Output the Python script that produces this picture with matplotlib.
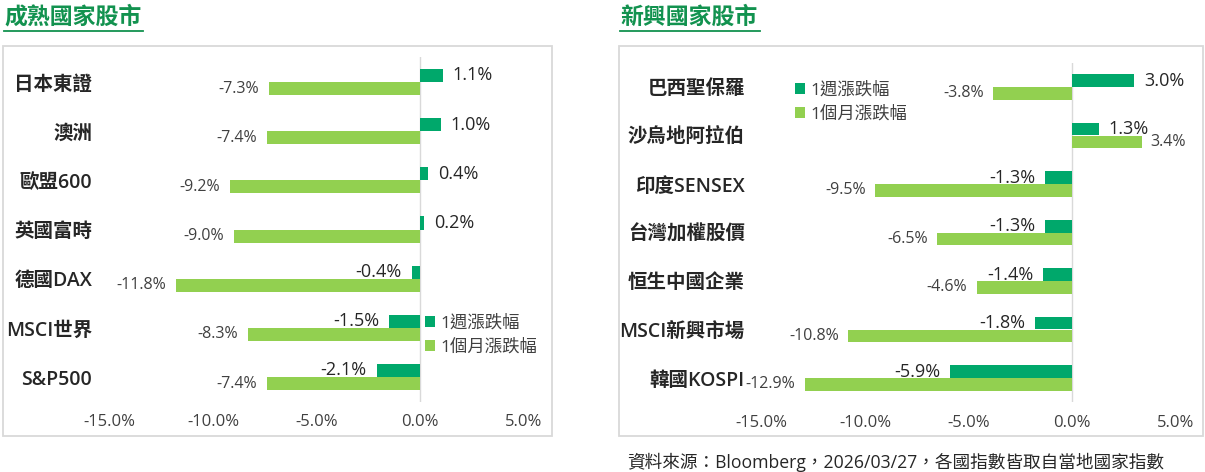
"""
Weekly and monthly returns of developed and emerging stock markets,
drawn as two horizontal bar panels side by side.
"""

import matplotlib

matplotlib.use("Agg")
import matplotlib.pyplot as plt
from matplotlib.lines import Line2D
from matplotlib.patches import Rectangle

plt.rcParams["font.family"] = ["Open Sans", "Noto Sans CJK TC", "DejaVu Sans"]

W, H = 1205, 472

dev_names = ["日本東證", "澳洲", "歐盟600", "英國富時", "德國DAX", "MSCI世界", "S&P500"]
dev_week = [1.1, 1.0, 0.4, 0.2, -0.4, -1.5, -2.1]
dev_month = [-7.3, -7.4, -9.2, -9.0, -11.8, -8.3, -7.4]

em_names = ["巴西聖保羅", "沙烏地阿拉伯", "印度SENSEX", "台灣加權股價",
            "恒生中國企業", "MSCI新興市場", "韓國KOSPI"]
em_week = [3.0, 1.3, -1.3, -1.3, -1.4, -1.8, -5.9]
em_month = [-3.8, 3.4, -9.5, -6.5, -4.6, -10.8, -12.9]

x_ticks = [-15, -10, -5, 0, 5]
legend_labels = ["1週漲跌幅", "1個月漲跌幅"]
titles = ["成熟國家股市", "新興國家股市"]
source = "資料來源：Bloomberg，2026/03/27，各國指數皆取自當地國家指數"

WEEK_COLOR = "#00A86B"
MONTH_COLOR = "#92D050"
TITLE_COLOR = "#12924F"
TEXT_DARK = "#262626"
TEXT_GRAY = "#404040"
BOX_COLOR = "#D9D9D9"
BAR_H = 0.265


def px_axes(fig, left, top, right, bottom):
    return fig.add_axes([left / W, 1 - bottom / H, (right - left) / W, (bottom - top) / H])


def draw_panel(ax, names, week, month, label_pad):
    pos = list(range(len(names)))
    bw = ax.barh([p - BAR_H / 2 for p in pos], week, height=BAR_H,
                 color=WEEK_COLOR, label=legend_labels[0])
    bm = ax.barh([p + BAR_H / 2 for p in pos], month, height=BAR_H,
                 color=MONTH_COLOR, label=legend_labels[1])

    for p, v in zip(pos, week):
        ax.annotate(f"{v:.1f}%", xy=(v, p - BAR_H / 2),
                    xytext=(7 if v >= 0 else -7, 0), textcoords="offset points",
                    ha="left" if v >= 0 else "right", va="center",
                    fontsize=13, color=TEXT_DARK, fontweight="medium")
    for p, v in zip(pos, month):
        ax.annotate(f"{v:.1f}%", xy=(v, p + BAR_H / 2),
                    xytext=(6 if v >= 0 else -7, 0), textcoords="offset points",
                    ha="left" if v >= 0 else "right", va="center",
                    fontsize=11.5, color=TEXT_GRAY)

    ax.axvline(0, color=BOX_COLOR, lw=1, zorder=0)
    ax.set_xlim(-15, 5)
    ax.set_ylim(len(names) - 0.5, -0.5)
    ax.set_xticks(x_ticks)
    ax.set_xticklabels([f"{t:.1f}%" for t in x_ticks], fontsize=12, color=TEXT_GRAY)
    ax.set_yticks(pos)
    ax.set_yticklabels(names, fontsize=14, color=TEXT_DARK, fontweight="semibold")
    ax.tick_params(axis="y", length=0, pad=label_pad)
    ax.tick_params(axis="x", length=0, pad=9)
    for s in ax.spines.values():
        s.set_visible(False)
    ax.patch.set_alpha(0)
    return bw, bm


fig = plt.figure(figsize=(W / 100, H / 100), dpi=100)

ax1 = px_axes(fig, 109.5, 57.4, 523.5, 401.6)
h1 = draw_panel(ax1, dev_names, dev_week, dev_month, 12.5)
ax1.legend(h1, legend_labels, loc="center left",
           bbox_to_anchor=(425 / W, 1 - 335.5 / H), bbox_transform=fig.transFigure,
           frameon=False, fontsize=12.5, handlelength=0.55, handleheight=0.55,
           handletextpad=0.35, labelspacing=0.45, borderpad=0, borderaxespad=0,
           labelcolor=TEXT_GRAY)

ax2 = px_axes(fig, 761.5, 62.75, 1175.5, 402.25)
h2 = draw_panel(ax2, em_names, em_week, em_month, 12)
ax2.legend(h2, legend_labels, loc="center left",
           bbox_to_anchor=(795 / W, 1 - 102.5 / H), bbox_transform=fig.transFigure,
           frameon=False, fontsize=12.5, handlelength=0.55, handleheight=0.55,
           handletextpad=0.35, labelspacing=0.45, borderpad=0, borderaxespad=0,
           labelcolor=TEXT_GRAY)

# panel frames
for x0, x1 in [(3, 552), (619, 1203)]:
    fig.add_artist(Rectangle((x0 / W, 1 - 436 / H), (x1 - x0) / W, (436 - 46) / H,
                             transform=fig.transFigure, fill=False,
                             ec=BOX_COLOR, lw=1.3))

# titles with underline
for title, x0, x1 in [(titles[0], 4, 143), (titles[1], 620, 760)]:
    fig.text(x0 / W, 1 - 18 / H, title, fontsize=16.5, color=TITLE_COLOR,
             ha="left", va="center", fontweight="bold")
    fig.add_artist(Line2D([x0 / W, x1 / W], [1 - 31 / H, 1 - 31 / H],
                          transform=fig.transFigure, color=TITLE_COLOR, lw=1.3))

fig.text(627 / W, 1 - 462 / H, source, fontsize=12.7, color=TEXT_DARK,
         ha="left", va="center")

fig.savefig("out.png", dpi=100)
